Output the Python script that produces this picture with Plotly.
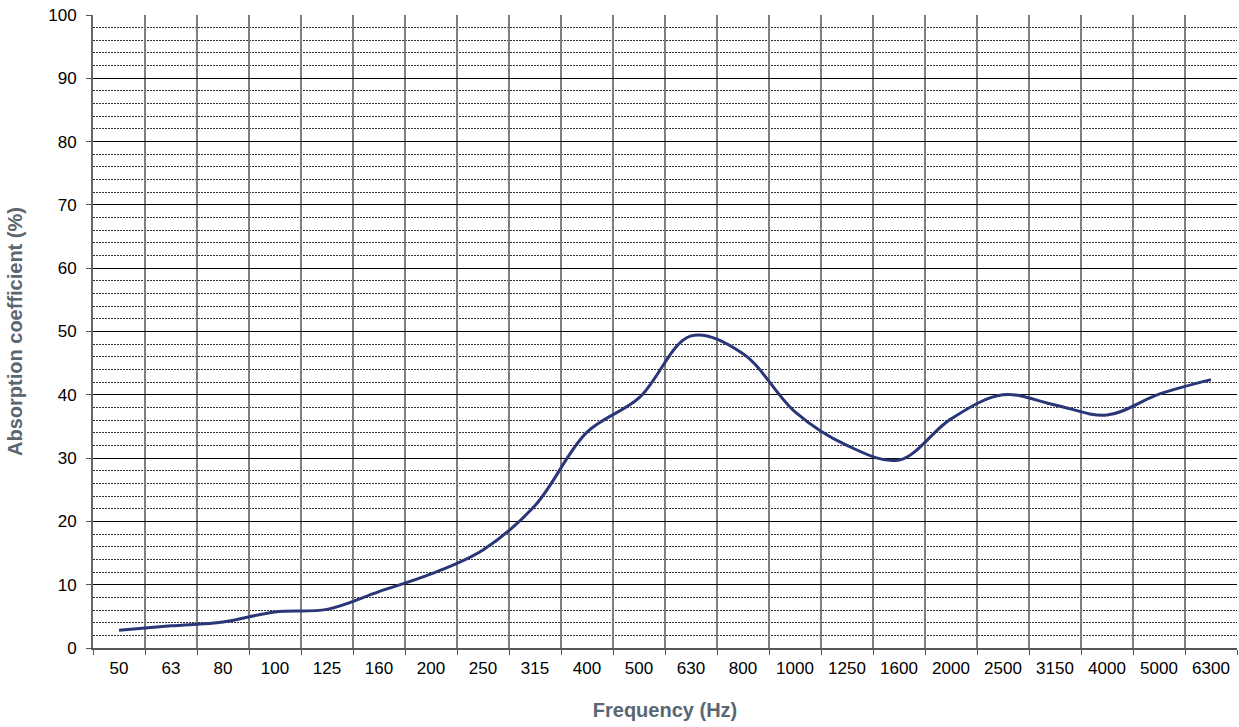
import plotly.graph_objects as go

freq_labels = ["50", "63", "80", "100", "125", "160", "200", "250", "315", "400", "500",
               "630", "800", "1000", "1250", "1600", "2000", "2500", "3150", "4000", "5000", "6300"]
absorption = [2.8, 3.5, 4.1, 5.7, 6.1, 8.9, 11.7, 15.5, 22.5, 34.1, 39.5,
              49.3, 46.5, 37.3, 32.0, 29.7, 36.2, 40.0, 38.4, 36.8, 40.1, 42.4]
y_ticks = [0, 10, 20, 30, 40, 50, 60, 70, 80, 90, 100]

fig = go.Figure()
fig.add_trace(go.Scatter(
    x=freq_labels, y=absorption, mode="lines",
    line=dict(color="#2A3677", width=3, shape="spline", smoothing=1),
    showlegend=False, hoverinfo="x+y",
))

fig.update_layout(
    width=1239, height=727,
    margin=dict(l=93, r=2, t=15, b=79, autoexpand=False),
    paper_bgcolor="white", plot_bgcolor="white",
    font=dict(family="Arial, Liberation Sans, sans-serif", size=17, color="black"),
    xaxis=dict(
        type="category", categoryorder="array", categoryarray=freq_labels,
        tickson="boundaries", ticks="outside", ticklen=5, tickcolor="#555555", tickwidth=1,
        showgrid=True, gridcolor="#7F7F7F", gridwidth=2,
        showline=True, linecolor="#555555", linewidth=2,
        range=[-0.5, len(freq_labels) - 0.5],
        tickfont=dict(size=17, color="black"),
        ticklabelstandoff=4,
        title=dict(text="<b>Frequency (Hz)</b>", font=dict(size=20, color="#5A6670"), standoff=26),
        zeroline=False, automargin=False,
    ),
    yaxis=dict(
        range=[0, 100], tickvals=y_ticks, ticks="outside", ticklen=5, tickcolor="#555555",
        showgrid=True, gridcolor="black", gridwidth=1,
        minor=dict(dtick=2, showgrid=True, gridcolor="#333333", gridwidth=1, griddash="2px,1px"),
        showline=True, linecolor="#666666", linewidth=2,
        tickfont=dict(size=17, color="black"),
        ticklabelstandoff=6, ticklabeloverflow="allow",
        title=dict(text="<b>Absorption coefficient (%)</b>", font=dict(size=20, color="#5A6670"), standoff=20),
        zeroline=False, automargin=False,
    ),
)

# remove the default 8px page margin so the figure fills the window exactly
fig.write_html("out.html", config={"displayModeBar": False},
               post_script="document.body.style.margin='0';document.body.style.overflow='hidden';")
